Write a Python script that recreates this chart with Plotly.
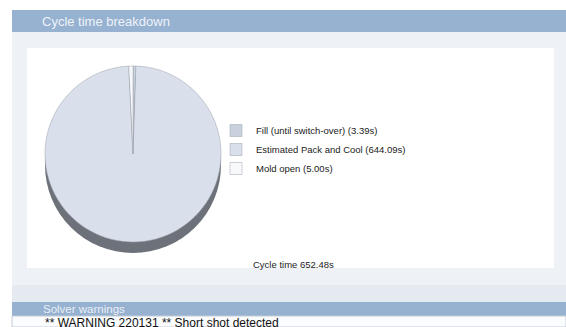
import plotly.graph_objects as go

W, H = 566, 327

# ---- data ----
phase_labels = ["Fill (until switch-over) (3.39s)",
                "Estimated Pack and Cool (644.09s)",
                "Mold open (5.00s)"]
phase_values = [3.39, 644.09, 5.00]
phase_colors = ["#c9d1de", "#d9e0eb", "#f7f9fb"]
cycle_time = 652.48
title_text = "Cycle time breakdown"
warn_title = "Solver warnings"
warn_text = "** WARNING 220131 ** Short shot detected"


def px(x):
    return x / W


def py(y):
    return 1 - y / H


fig = go.Figure()

# 3D depth (shadow) pie drawn slightly lower
fig.add_trace(go.Pie(
    labels=["depth"], values=[sum(phase_values)],
    marker=dict(colors=["#6c717a"], line=dict(width=0)),
    textinfo="none", hoverinfo="skip", showlegend=False, sort=False,
    domain=dict(x=[px(45), px(221)], y=[py(253), py(77)]),
))

# main pie
fig.add_trace(go.Pie(
    labels=phase_labels, values=phase_values,
    marker=dict(colors=phase_colors, line=dict(color="#9aa1ab", width=0.5)),
    textinfo="none", sort=False, direction="clockwise",
    domain=dict(x=[px(45), px(221)], y=[py(242), py(66)]),
))

shapes = []


def rect(x0, y0, x1, y1, color, line=None):
    shapes.append(dict(type="rect", xref="paper", yref="paper",
                       x0=px(x0), x1=px(x1), y0=py(y1), y1=py(y0),
                       fillcolor=color, line=dict(width=0) if line is None else line,
                       layer="below"))


rect(12, 32, 566, 286, "#eef2f7")          # panel background
rect(12, 10, 566, 32, "#97b1d0")           # header bar
rect(27, 48, 554, 268, "#ffffff")          # inner white box
rect(12, 285, 566, 302, "#e5eaf1")         # bottom band
rect(12, 302, 566, 316, "#97b1d0")         # warnings bar
rect(12, 316, 566, 327, "#fbfcfd",
     line=dict(color="#c4ccd6", width=1))  # warnings text area

annotations = [
    dict(text=title_text, x=px(40), y=py(21), xanchor="left", yanchor="middle",
         font=dict(size=13, color="#eef3fa", family="Liberation Sans")),
    dict(text=f"Cycle time {cycle_time:.2f}s", x=px(251), y=py(264),
         xanchor="left", yanchor="middle",
         font=dict(size=9.5, color="#222222", family="Liberation Sans")),
    dict(text=warn_title, x=px(41), y=py(309), xanchor="left", yanchor="middle",
         font=dict(size=11.5, color="#e9eff7", family="Liberation Sans")),
    dict(text=warn_text, x=px(43), y=py(323), xanchor="left", yanchor="middle",
         font=dict(size=12, color="#111111", family="Liberation Sans")),
]
for a in annotations:
    a.update(xref="paper", yref="paper", showarrow=False)

fig.update_layout(
    width=W, height=H,
    margin=dict(l=0, r=0, t=0, b=0),
    paper_bgcolor="#ffffff", plot_bgcolor="#ffffff",
    shapes=shapes, annotations=annotations,
    legend=dict(x=px(216), y=py(116), xanchor="left", yanchor="top",
                bgcolor="rgba(0,0,0,0)",
                font=dict(size=9.5, color="#222222", family="Liberation Sans"),
                itemwidth=30),
)

fig.write_html("out.html")
